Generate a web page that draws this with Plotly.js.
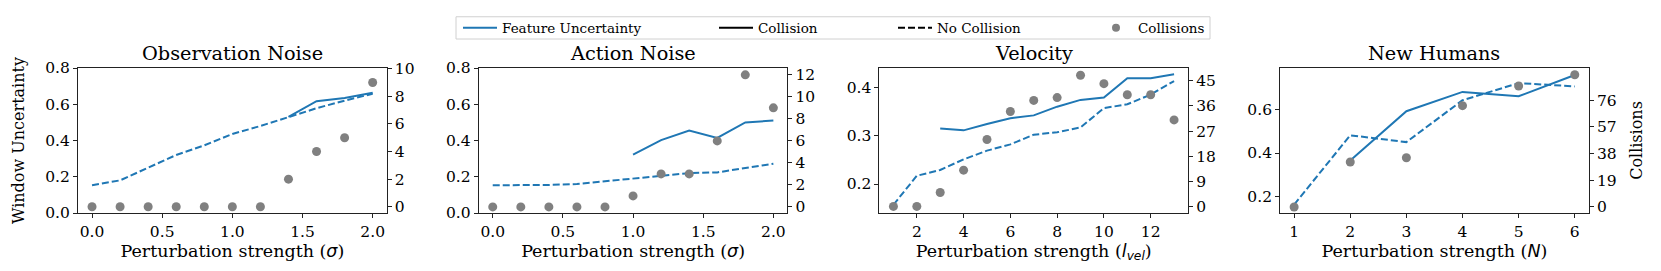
<!DOCTYPE html>
<html>
<head>
<meta charset="utf-8">
<script src="https://cdn.plot.ly/plotly-3.0.1.min.js"></script>
<style>html,body{margin:0;padding:0;background:#fff;}#chart{width:1661px;height:271px;}</style>
</head>
<body>
<div id="chart"></div>
<script>
// ---- Data ----
const sigmaX = [0.0, 0.2, 0.4, 0.6, 0.8, 1.0, 1.2, 1.4, 1.6, 1.8, 2.0];
const obsNoCollision = [0.153, 0.180, 0.250, 0.320, 0.373, 0.436, 0.480, 0.530, 0.578, 0.620, 0.658];
const obsCollision   = [null, null, null, null, null, null, null, 0.530, 0.617, 0.635, 0.663];
const obsCollisions  = [0, 0, 0, 0, 0, 0, 0, 2, 4, 5, 9];

const actNoCollision = [0.153, 0.153, 0.155, 0.160, 0.174, 0.192, 0.206, 0.220, 0.224, 0.250, 0.272];
const actCollision   = [null, null, null, null, null, 0.322, 0.402, 0.455, 0.414, 0.500, 0.510];
const actCollisions  = [0, 0, 0, 0, 0, 1, 3, 3, 6, 12, 9];

const velX = [1, 2, 3, 4, 5, 6, 7, 8, 9, 10, 11, 12, 13];
const velNoCollision = [0.157, 0.217, 0.229, 0.251, 0.269, 0.282, 0.302, 0.307, 0.317, 0.357, 0.365, 0.385, 0.413];
const velCollision   = [null, null, 0.315, 0.311, 0.324, 0.336, 0.342, 0.360, 0.374, 0.379, 0.419, 0.419, 0.427];
const velCollisions  = [0, 0, 5, 13, 24, 34, 38, 39, 47, 44, 40, 40, 31];

const humX = [1, 2, 3, 4, 5, 6];
const humNoCollision = [0.165, 0.481, 0.450, 0.641, 0.719, 0.704];
const humCollision   = [null, 0.366, 0.591, 0.679, 0.659, 0.756];
const humCollisions  = [0, 32, 35, 72, 86, 94];

const panelTitles = ["Observation Noise", "Action Noise", "Velocity", "New Humans"];
const legendNames = ["Feature Uncertainty", "Collision", "No Collision", "Collisions"];
const rightTicks = [[0, 2, 4, 6, 8, 10], [0, 2, 4, 6, 8, 10, 12], [0, 9, 18, 27, 36, 45], [0, 19, 38, 57, 76]];

// ---- Style ----
const FONT = "DejaVu Serif, serif";
const MATH = "font-family:DejaVu Sans;font-style:italic";
const BLUE = "#1f77b4";
const GRAY = "#808080";
const DASH = "7px,3px";
const LW = 2;

const panels = [
  {x: sigmaX, nc: obsNoCollision, c: obsCollision, n: obsCollisions},
  {x: sigmaX, nc: actNoCollision, c: actCollision, n: actCollisions},
  {x: velX, nc: velNoCollision, c: velCollision, n: velCollisions},
  {x: humX, nc: humNoCollision, c: humCollision, n: humCollisions}
];

const traces = [];
panels.forEach((p, i) => {
  const xa = i === 0 ? "x" : "x" + (i + 1);
  const ya = i === 0 ? "y" : "y" + (i + 1);
  const yr = "y" + (i + 5);
  traces.push({x: p.x, y: p.nc, xaxis: xa, yaxis: ya, mode: "lines", showlegend: false,
    line: {color: BLUE, width: LW, dash: DASH}, hoverinfo: "skip"});
  traces.push({x: p.x, y: p.c, xaxis: xa, yaxis: ya, mode: "lines", showlegend: false,
    line: {color: BLUE, width: LW}, hoverinfo: "skip"});
  traces.push({x: p.x, y: p.n, xaxis: xa, yaxis: yr, mode: "markers", showlegend: false,
    marker: {color: GRAY, size: 9, line: {width: 0}}, hoverinfo: "skip"});
});

const legendStyles = [
  {mode: "lines", line: {color: BLUE, width: LW}},
  {mode: "lines", line: {color: "#000000", width: LW}},
  {mode: "lines", line: {color: "#000000", width: LW, dash: DASH}},
  {mode: "markers", marker: {color: GRAY, size: 8}}
];
legendNames.forEach((nm, k) => {
  traces.push(Object.assign({x: [null], y: [null], xaxis: "x", yaxis: "y", name: nm, showlegend: true,
    legend: k === 0 ? "legend" : "legend" + (k + 1)}, legendStyles[k]));
});

// ---- Layout ----
const W = 1661, H = 271;
const L = 78, R = 72, T = 63, B = 58;
const plotW = W - L - R, plotH = H - T - B;
const px2x = v => (v - L) / plotW;
const py2y = v => (H - B - v) / plotH;

const starts = [78, 478.7, 879.4, 1280.1];
const pw = 308.7;
const domains = starts.map(s => [Math.max(0, px2x(s)), Math.min(1, px2x(s + pw))]);

const axisCommon = {
  showline: true, linecolor: "#222", linewidth: 1,
  ticks: "outside", ticklen: 4, tickwidth: 1, tickcolor: "#222",
  showgrid: false, zeroline: false, automargin: false,
  tickfont: {family: FONT, size: 15.5, color: "#000"}
};

const xRanges = [[-0.1, 2.1], [-0.1, 2.1], [0.4, 13.6], [0.75, 6.25]];
const xTicks = [[0, 0.5, 1, 1.5, 2], [0, 0.5, 1, 1.5, 2], [2, 4, 6, 8, 10, 12], [1, 2, 3, 4, 5, 6]];
const xFmt = [".1f", ".1f", "d", "d"];
const xLabels = [
  "Perturbation strength (<span style=\"" + MATH + "\">σ</span>)",
  "Perturbation strength (<span style=\"" + MATH + "\">σ</span>)",
  "Perturbation strength (<span style=\"" + MATH + "\">l<sub>vel</sub></span>)",
  "Perturbation strength (<span style=\"" + MATH + "\">N</span>)"
];
const yRanges = [[0, 0.8], [0, 0.8], [0.14, 0.44], [0.1265, 0.788]];
const yTicks = [[0, 0.2, 0.4, 0.6, 0.8], [0, 0.2, 0.4, 0.6, 0.8], [0.2, 0.3, 0.4], [0.2, 0.4, 0.6]];
const rRanges = [[-0.45, 10.05], [-0.55, 12.62], [-2.35, 49.6], [-4.3, 98.8]];

const layout = {
  width: W, height: H,
  margin: {l: L, r: R, t: T, b: B, pad: 0},
  paper_bgcolor: "#fff", plot_bgcolor: "rgba(0,0,0,0)",
  font: {family: FONT, size: 15, color: "#000"},
  showlegend: true,
  annotations: [], shapes: []
};

for (let i = 0; i < 4; i++) {
  const xk = i === 0 ? "xaxis" : "xaxis" + (i + 1);
  const yk = i === 0 ? "yaxis" : "yaxis" + (i + 1);
  const rk = "yaxis" + (i + 5);
  const xn = i === 0 ? "x" : "x" + (i + 1);
  const yn = i === 0 ? "y" : "y" + (i + 1);
  layout[xk] = Object.assign({}, axisCommon, {
    domain: domains[i], anchor: yn, range: xRanges[i], mirror: true,
    tickvals: xTicks[i], tickformat: xFmt[i],
    title: {text: xLabels[i], font: {family: FONT, size: 17.5, color: "#000"}, standoff: 4}
  });
  layout[yk] = Object.assign({}, axisCommon, {
    domain: [0, 1], anchor: xn, range: yRanges[i], side: "left",
    tickvals: yTicks[i], tickformat: ".1f"
  });
  layout[rk] = Object.assign({}, axisCommon, {
    domain: [0, 1], anchor: xn, overlaying: yn, side: "right", range: rRanges[i],
    tickvals: rightTicks[i], tickformat: "d"
  });
  layout.annotations.push({
    text: panelTitles[i], xref: "paper", yref: "paper",
    x: (domains[i][0] + domains[i][1]) / 2, y: py2y(48.5),
    xanchor: "center", yanchor: "middle", showarrow: false,
    font: {family: FONT, size: 19.3, color: "#000"}
  });
}
layout.yaxis.title = {text: "Window Uncertainty", font: {family: FONT, size: 16, color: "#000"}, standoff: 16};
layout.yaxis8.title = {text: "Collisions", font: {family: FONT, size: 16, color: "#000"}, standoff: 15};

const legendX = [458, 714, 893, 1094];
const legendKeys = ["legend", "legend2", "legend3", "legend4"];
legendKeys.forEach((k, j) => {
  layout[k] = {
    x: px2x(legendX[j]), y: py2y(21.5), xanchor: "left", yanchor: "middle",
    orientation: "h", bgcolor: "rgba(0,0,0,0)", borderwidth: 0, itemwidth: 34,
    font: {family: FONT, size: 13.5, color: "#000"}
  };
});
layout.shapes.push({
  type: "rect", xref: "paper", yref: "paper",
  x0: px2x(456), x1: px2x(1210), y0: py2y(33), y1: py2y(10),
  line: {color: "#d0d0d0", width: 1}, fillcolor: "rgba(255,255,255,0.8)", layer: "below"
});

Plotly.newPlot("chart", traces, layout, {staticPlot: true, displayModeBar: false});
</script>
</body>
</html>
